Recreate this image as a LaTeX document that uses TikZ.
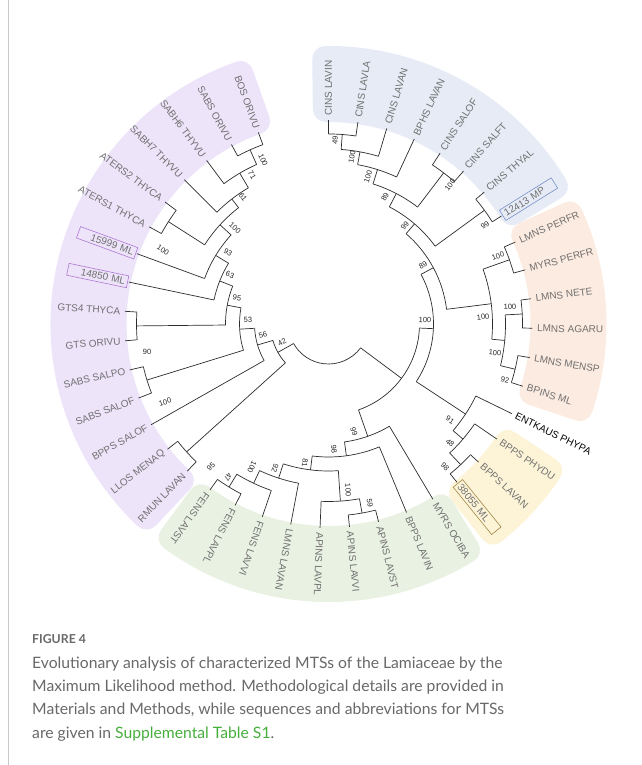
\documentclass[tikz,border=0pt]{standalone}
\usepackage{fontspec}
\setmainfont{Liberation Sans}
\newfontfamily\capfont{Lato}
\definecolor{blueR}{RGB}{230,235,246}
\definecolor{orangeR}{RGB}{252,235,224}
\definecolor{yellowR}{RGB}{253,244,216}
\definecolor{greenR}{RGB}{233,241,226}
\definecolor{purpleR}{RGB}{237,228,250}
\definecolor{leafgray}{RGB}{112,112,112}
\definecolor{brc}{RGB}{45,45,45}
\definecolor{boxblue}{RGB}{120,145,200}
\definecolor{boxbrown}{RGB}{160,135,70}
\definecolor{boxpurple}{RGB}{175,120,210}
\definecolor{capgray}{RGB}{105,105,105}
\definecolor{capgreen}{RGB}{70,175,60}
\definecolor{framegray}{RGB}{200,200,200}
\newcommand{\TrArc}[3]{\draw[br] (#2:#1pt) arc[start angle=#2, end angle=#3, radius=#1pt];}
\newcommand{\TrRad}[3]{\draw[br] (#1:#2pt) -- (#1:#3pt);}
\newcommand{\LfR}[2]{\node[lf, anchor=west, rotate=#1] at (#1:207pt) {#2};}
\newcommand{\LfL}[2]{\node[lf, anchor=east, rotate={#1+180}] at (#1:207pt) {#2};}
\newcommand{\BxR}[3]{\node[lf, bx, draw=#3, anchor=west, rotate=#1, align=left] at (#1:205pt) {#2};}
\newcommand{\BxL}[3]{\node[lf, bx, draw=#3, anchor=east, rotate={#1+180}, align=right] at (#1:205pt) {#2};}
\newcommand{\BS}[4]{\node[bs, rotate=#3] at (#1,{765-#2}) {#4};}
\newcommand{\Region}[3]{\path[fill=#1, draw=#1, line width=26pt, line join=round]
  ({#2-3.1}:215pt) arc[start angle={#2-3.1}, end angle={#3+3.1}, radius=215pt]
  -- ({#3+3.1}:265pt) arc[start angle={#3+3.1}, end angle={#2-3.1}, radius=265pt] -- cycle;}
\begin{document}
\begin{tikzpicture}[x=1pt,y=1pt,
  br/.style={draw=brc, line width=0.7pt},
  lf/.style={font=\fontsize{10}{12}\selectfont, text=leafgray, inner sep=1.5pt},
  bx/.style={text width=56pt, inner sep=2.5pt, line width=0.6pt},
  bs/.style={font=\fontsize{7.5}{9}\selectfont, text=black!85, inner sep=0pt}]
\useasboundingbox (0,0) rectangle (641,765);
\fill[white] (0,0) rectangle (641,765);
\draw[framegray, line width=0.8pt] (8,0) -- (8,765);
\begin{scope}[shift={(328.5,441)}]
% coloured regions
\Region{blueR}{93.8}{28.2}
\Region{orangeR}{27.5}{-21.6}
\Region{yellowR}{-30.5}{-54.7}
\Region{greenR}{-55.4}{-129.4}
\Region{purpleR}{-130.3}{-253.7}
% root and right part
\TrArc{40}{-36.65}{-150.76}
\TrRad{-36.65}{40}{91} \TrArc{91}{-2.55}{-70.75}
\TrRad{-2.55}{91}{105} \TrArc{105}{28.215}{-33.31}
\TrRad{28.215}{105}{119} \TrArc{119}{49.33}{7.1}
\TrRad{49.33}{119}{132} \TrArc{132}{62.54}{36.115}
\TrRad{62.54}{132}{147} \TrArc{147}{72.385}{52.695}
\TrRad{72.385}{147}{162} \TrArc{162}{79.64}{65.13}
\TrRad{79.64}{162}{175} \TrArc{175}{85.855}{73.42}
\TrRad{85.855}{175}{190} \TrArc{190}{90}{81.71}
\TrRad{90}{190}{204} \TrRad{81.71}{190}{204}
\TrRad{73.42}{175}{204} \TrRad{65.13}{162}{204}
\TrRad{52.695}{147}{190} \TrArc{190}{56.84}{48.55}
\TrRad{56.84}{190}{204} \TrRad{48.55}{190}{204}
\TrRad{36.115}{132}{193} \TrArc{193}{40.26}{31.97}
\TrRad{40.26}{193}{204} \TrRad{31.97}{193}{204}
\TrRad{7.1}{119}{164} \TrArc{164}{19.535}{-5.335}
\TrRad{19.535}{164}{192} \TrArc{192}{23.68}{15.39}
\TrRad{23.68}{192}{204} \TrRad{15.39}{192}{204}
\TrRad{-5.335}{164}{177} \TrArc{177}{2.955}{-13.625}
\TrRad{2.955}{177}{194} \TrArc{194}{7.10}{-1.19}
\TrRad{7.10}{194}{204} \TrRad{-1.19}{194}{204}
\TrRad{-13.625}{177}{192} \TrArc{192}{-9.48}{-17.77}
\TrRad{-9.48}{192}{204} \TrRad{-17.77}{192}{204}
\TrRad{-33.31}{105}{164} \TrArc{164}{-26.06}{-40.5675}
\TrRad{-26.06}{164}{204}
\TrRad{-40.5675}{164}{177} \TrArc{177}{-34.35}{-46.785}
\TrRad{-34.35}{177}{204}
\TrRad{-46.785}{177}{193} \TrArc{193}{-42.64}{-50.93}
\TrRad{-42.64}{193}{204} \TrRad{-50.93}{193}{204}
% green part
\TrRad{-70.75}{91}{119} \TrArc{119}{-59.22}{-82.275}
\TrRad{-59.22}{119}{204}
\TrRad{-82.275}{119}{133} \TrArc{133}{-67.51}{-97.04}
\TrRad{-67.51}{133}{204}
\TrRad{-97.04}{133}{147} \TrArc{147}{-86.16}{-107.925}
\TrRad{-86.16}{147}{177.5} \TrArc{177.5}{-79.945}{-92.38}
\TrRad{-92.38}{177.5}{204}
\TrRad{-79.945}{177.5}{192} \TrArc{192}{-75.80}{-84.09}
\TrRad{-75.80}{192}{204} \TrRad{-84.09}{192}{204}
\TrRad{-107.925}{147}{162} \TrArc{162}{-100.67}{-115.18}
\TrRad{-100.67}{162}{204}
\TrRad{-115.18}{162}{176} \TrArc{176}{-108.96}{-121.395}
\TrRad{-108.96}{176}{204}
\TrRad{-121.395}{176}{191} \TrArc{191}{-117.25}{-125.54}
\TrRad{-117.25}{191}{204} \TrRad{-125.54}{191}{204}
% purple part
\TrRad{-150.76}{40}{58} \TrArc{58}{-137.975}{-163.54}
\TrRad{-137.975}{58}{191} \TrArc{191}{-133.83}{-142.12}
\TrRad{-133.83}{191}{204} \TrRad{-142.12}{191}{204}
\TrRad{-163.54}{58}{74} \TrArc{74}{-150.41}{-176.67}
\TrRad{-150.41}{74}{204}
\TrRad{-176.67}{74}{89} \TrArc{89}{-162.845}{-190.5}
\TrRad{-162.845}{89}{190} \TrArc{190}{-158.70}{-166.99}
\TrRad{-158.70}{190}{204} \TrRad{-166.99}{190}{204}
\TrRad{-190.5}{89}{103} \TrArc{103}{-179.425}{-201.575}
\TrRad{-179.425}{103}{192} \TrArc{192}{-175.28}{-183.57}
\TrRad{-175.28}{192}{204} \TrRad{-183.57}{192}{204}
\TrRad{-201.575}{103}{117} \TrArc{117}{-191.86}{-211.29}
\TrRad{-191.86}{117}{204}
\TrRad{-211.29}{117}{132} \TrArc{132}{-200.15}{-222.43}
\TrRad{-200.15}{132}{204}
\TrRad{-222.43}{132}{147} \TrArc{147}{-212.585}{-232.275}
\TrRad{-212.585}{147}{190} \TrArc{190}{-208.44}{-216.73}
\TrRad{-208.44}{190}{204} \TrRad{-216.73}{190}{204}
\TrRad{-232.275}{147}{158} \TrArc{158}{-225.02}{-239.53}
\TrRad{-225.02}{158}{204}
\TrRad{-239.53}{158}{175} \TrArc{175}{-233.31}{-245.745}
\TrRad{-233.31}{175}{204}
\TrRad{-245.745}{175}{191} \TrArc{191}{-241.60}{-249.89}
\TrRad{-241.60}{191}{204} \TrRad{-249.89}{191}{204}
% leaf labels
\LfR{90}{CINS LAVIN}
\LfR{81.71}{CINS LAVLA}
\LfR{73.42}{CINS LAVAN}
\LfR{65.13}{BPHS LAVAN}
\LfR{56.84}{CINS SALOF}
\LfR{48.55}{CINS SALFT}
\LfR{40.26}{CINS THYAL}
\BxR{31.97}{12413 MP}{boxblue}
\LfR{23.68}{LMNS PERFR}
\LfR{15.39}{MYRS PERFR}
\LfR{7.10}{LMNS NETE}
\LfR{-1.19}{LMNS AGARU}
\LfR{-9.48}{LMNS MENSP}
\LfR{-17.77}{BPINS ML}
\node[lf, text=black, anchor=west, rotate=-26.06] at (-26.06:207pt) {ENTKAUS PHYPA};
\LfR{-34.35}{BPPS PHYDU}
\LfR{-42.64}{BPPS LAVAN}
\BxR{-50.93}{38055 ML}{boxbrown}
\LfR{-59.22}{MYRS OCIBA}
\LfR{-67.51}{BPPS LAVIN}
\LfR{-75.80}{APINS LAVST}
\LfR{-84.09}{APINS LAVVI}
\LfR{-92.38}{APINS LAVPL}
\LfR{-100.67}{LMNS LAVAN}
\LfR{-108.96}{FENS LAVVI}
\LfR{-117.25}{FENS LAVPL}
\LfR{-125.54}{FENS LAVST}
\LfL{-133.83}{RMUN LAVAN}
\LfL{-142.12}{LLOS MENAQ}
\LfL{-150.41}{BPPS SALOF}
\LfL{-158.70}{SABS SALOF}
\LfL{-166.99}{SABS SALPO}
\LfL{-175.28}{GTS ORIVU}
\LfL{-183.57}{GTS4 THYCA}
\BxL{-191.86}{14850 ML}{boxpurple}
\BxL{-200.15}{15999 ML}{boxpurple}
\LfL{-208.44}{ATERS1 THYCA}
\LfL{-216.73}{ATERS2 THYCA}
\LfL{-225.02}{SABH7 THYVU}
\LfL{-233.31}{SABH6 THYVU}
\LfL{-241.60}{SABS ORIVU}
\LfL{-249.89}{BOS ORIVU}
\end{scope}
% bootstrap values
\BS{335}{140}{85.855}{49}
\BS{352}{157}{79.64}{100}
\BS{368}{177}{72.385}{100}
\BS{385}{197}{62.54}{89}
\BS{450}{185}{52.695}{100}
\BS{485}{225}{36.115}{99}
\BS{405}{226}{49.33}{99}
\BS{423}{265}{28.215}{89}
\BS{425}{320}{-2.55}{100}
\BS{498}{256}{19.535}{100}
\BS{510}{307}{2.955}{100}
\BS{483}{317}{7.1}{100}
\BS{495}{353}{-5.335}{100}
\BS{505}{380}{-13.625}{92}
\BS{450}{420}{-33.31}{91}
\BS{450}{443}{-40.57}{48}
\BS{445}{467}{-46.785}{98}
\BS{354}{432}{-70.75}{99}
\BS{334}{449}{-82.275}{98}
\BS{305}{463}{-97.04}{81}
\BS{275}{468}{-107.925}{92}
\BS{252}{467}{-115.18}{100}
\BS{228}{477}{-121.395}{47}
\BS{348}{490}{-86.16}{100}
\BS{370}{503}{-79.945}{59}
\BS{211}{467}{42.03}{95}
\BS{165}{402}{17.155}{100}
\BS{147}{352}{0.575}{90}
\BS{237}{298}{-10.5}{95}
\BS{248}{320}{3.33}{53}
\BS{263}{335}{16.46}{56}
\BS{282}{342}{29.24}{42}
\BS{230}{275}{-21.575}{63}
\BS{228}{252}{-31.29}{93}
\BS{235}{228}{-42.43}{100}
\BS{163}{250}{-32.585}{100}
\BS{243}{197}{-52.275}{61}
\BS{252}{175}{-59.53}{71}
\BS{263}{160}{-65.745}{100}
% caption
\node[anchor=base west, inner sep=0pt, text=capgray, font=\capfont\bfseries\fontsize{12.3}{14}\selectfont] (figlab) at (32,{765-643.3}) {FIGURE 4};
\node[anchor=base west, inner sep=0pt, text=capgray, font=\capfont\fontsize{15.7}{18}\selectfont] (cap1) at (32,{765-668.3}) {Evolutionary analysis of characterized MTSs of the Lamiaceae by the};
\node[anchor=base west, inner sep=0pt, text=capgray, font=\capfont\fontsize{15.7}{18}\selectfont] (cap2) at (32,{765-691.7}) {Maximum Likelihood method. Methodological details are provided in};
\node[anchor=base west, inner sep=0pt, text=capgray, font=\capfont\fontsize{15.7}{18}\selectfont] (cap3) at (32,{765-715}) {Materials and Methods, while sequences and abbreviations for MTSs};
\node[anchor=base west, inner sep=0pt, text=capgray, font=\capfont\fontsize{15.7}{18}\selectfont] (cap4) at (32,{765-738.3}) {are given in \textcolor{capgreen}{Supplemental Table S1}.};
\end{tikzpicture}
\end{document}
